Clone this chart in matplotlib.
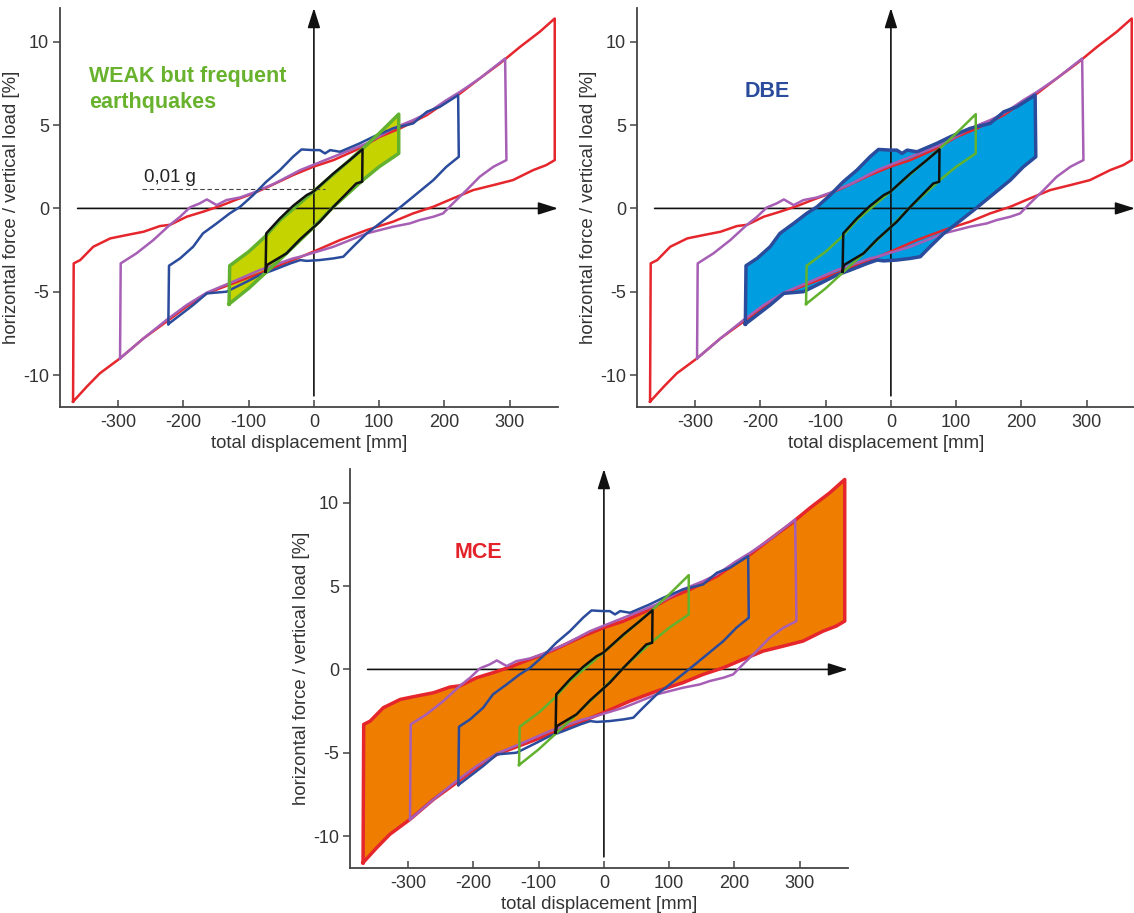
import matplotlib
matplotlib.use("Agg")
import matplotlib.pyplot as plt
from matplotlib.patches import Polygon

plt.rcParams["font.family"] = ["Liberation Sans", "DejaVu Sans"]
plt.rcParams["axes.unicode_minus"] = False

# hysteresis loops:
# upper branch left -> right, then lower branch right -> left
RED_X = [-369, -368, -358, -338, -312, -287, -261, -236, -220, -195, -170, -144, -118, -93, -72, -32, -1,
         30, 70, 101, 132, 173, 203, 224, 254, 285, 316, 346, 369,
         369, 356, 336, 305, 275, 244, 213, 183, 152, 121, 81, 40, -1, -32, -83, -124, -164, -195,
         -226, -261, -297, -328, -348, -369]
RED_Y = [-11.6, -3.3, -3.1, -2.3, -1.8, -1.6, -1.4, -1.06, -0.98, -0.5, -0.2, 0.14, 0.54, 0.9, 1.26, 2.0, 2.5,
         2.9, 3.6, 4.3, 4.8, 5.6, 6.4, 6.9, 7.8, 8.7, 9.7, 10.6, 11.4,
         2.9, 2.6, 2.3, 1.7, 1.4, 1.1, 0.6, 0.1, -0.3, -0.8, -1.3, -1.9, -2.6, -3.1, -3.9, -4.5, -5.1, -5.9,
         -6.8, -7.8, -9.0, -9.9, -10.7, -11.6]

PURPLE_X = [-297, -296, -272, -246, -221, -205, -190, -175, -164, -149, -134, -113, -93, -60, -21,
            30, 81, 121, 152, 173, 203, 224, 254, 293,
            295, 275, 254, 234, 213, 198, 183, 162, 147, 121, 81, 30, -21, -32, -83, -124, -164,
            -195, -226, -261, -297]
PURPLE_Y = [-9.0, -3.3, -2.7, -1.9, -1.0, -0.5, 0.06, 0.3, 0.54, 0.2, 0.5, 0.66, 0.94, 1.5, 2.3,
            3.1, 3.9, 4.8, 5.3, 5.7, 6.5, 7.0, 7.8, 9.0,
            2.9, 2.5, 1.9, 1.1, 0.3, -0.3, -0.5, -0.7, -0.9, -1.1, -1.5, -2.3, -2.9, -3.0, -3.7, -4.4, -5.05,
            -5.8, -6.7, -7.8, -9.0]

BLUE_X = [-223, -222, -205, -185, -170, -149, -129, -113, -93, -73, -52, -32, -19, -1, 9, 17, 25, 40,
          70, 91, 121, 152, 173, 193, 221,
          222, 203, 183, 152, 127, 101, 81, 60, 45, 30, 9, -11, -21, -36, -62, -83, -103, -134, -164,
          -185, -223]
BLUE_Y = [-6.94, -3.44, -3.0, -2.3, -1.5, -0.9, -0.3, 0.1, 0.8, 1.6, 2.3, 3.1, 3.54, 3.5, 3.5, 3.3, 3.5, 3.4,
          3.9, 4.3, 4.8, 5.1, 5.8, 6.1, 6.8,
          3.1, 2.5, 1.7, 0.7, -0.1, -0.9, -1.5, -2.3, -2.9, -3.0, -3.1, -3.15, -3.1, -3.3, -3.7, -4.0, -4.4,
          -5.0, -5.1, -5.8, -6.94]

GREEN_X = [-130, -129, -100, -75, -52, -1, 55, 75, 100, 130,
           130, 100, 75, 30, -1, -42, -75, -100, -130]
GREEN_Y = [-5.74, -3.44, -2.6, -1.7, -0.7, 1.0, 2.9, 3.6, 4.5, 5.66,
           3.3, 2.5, 1.7, 0.1, -1.15, -2.7, -3.9, -4.8, -5.74]

BLACK_X = [-74, -73, -52, -32, -11, -1, 30, 55, 74.5,
           74, 65, 30, 9, -1, -21, -42, -72, -74]
BLACK_Y = [-3.8, -1.5, -0.6, 0.15, 0.8, 1.0, 2.1, 2.9, 3.55,
           1.6, 1.5, 0.1, -0.8, -1.15, -1.85, -2.7, -3.4, -3.8]

X_TICKS = [-300, -200, -100, 0, 100, 200, 300]
Y_TICKS = [-10, -5, 0, 5, 10]

LOOPS = {
    "red": (RED_X, RED_Y, "#e5262c"),
    "purple": (PURPLE_X, PURPLE_Y, "#a65fb5"),
    "blue": (BLUE_X, BLUE_Y, "#2b4c9c"),
    "green": (GREEN_X, GREEN_Y, "#62b22f"),
    "black": (BLACK_X, BLACK_Y, "#111111"),
}

XLIM = (-389, 374)
YLIM = (-11.92, 12.03)
AX_C = "#444444"


def draw_panel(ax, hl, fill_color, texts):
    ax.set_xlim(*XLIM)
    ax.set_ylim(*YLIM)
    for s in ("top", "right"):
        ax.spines[s].set_visible(False)
    for s in ("left", "bottom"):
        ax.spines[s].set_color(AX_C)
        ax.spines[s].set_linewidth(1.3)
    ax.set_xticks(X_TICKS)
    ax.set_yticks(Y_TICKS)
    # x ticks point up into the plot, y ticks point out
    ax.tick_params(axis="x", direction="in", length=5, width=1.1, color=AX_C,
                   labelsize=13, labelcolor="#333333", pad=5)
    ax.tick_params(axis="y", direction="out", length=5, width=1.1, color=AX_C,
                   labelsize=13, labelcolor="#333333", pad=3)
    ax.set_xlabel("total displacement [mm]", fontsize=13.4, color="#333333", labelpad=3)
    ax.set_ylabel("horizontal force / vertical load [%]", fontsize=13.4, color="#333333", labelpad=2)

    # filled loop
    xs, ys, c = LOOPS[hl]
    ax.add_patch(Polygon(list(zip(xs, ys)), closed=True, facecolor=fill_color,
                         edgecolor="none", zorder=1))

    # coordinate arrows
    ap = dict(arrowstyle="-|>,head_length=1.2,head_width=0.38", color="#111111",
              lw=1.2, shrinkA=0, shrinkB=0)
    ax.annotate("", xy=(XLIM[1], 0), xytext=(-362, 0), arrowprops=ap,
                annotation_clip=False, zorder=2)
    ax.annotate("", xy=(0, YLIM[1]), xytext=(0, -11.25), arrowprops=ap,
                annotation_clip=False, zorder=2)

    for i, (name, (xs, ys, c)) in enumerate(LOOPS.items()):
        lw = 2.5 if name == hl else 1.8
        ax.plot(xs, ys, color=c, lw=lw, solid_joinstyle="round", zorder=3 + i)

    for t in texts:
        x, y, s, col, fs, bold = t
        ax.text(x, y, s, color=col, fontsize=fs, fontweight="bold" if bold else "normal",
                ha="left", va="baseline", zorder=10)


fig = plt.figure(figsize=(11.34, 9.13), dpi=100)
W, H = 1134, 913
ax1 = fig.add_axes([60 / W, 1 - 407 / H, 498 / W, 399 / H])
ax2 = fig.add_axes([637 / W, 1 - 407 / H, 498 / W, 399 / H])
ax3 = fig.add_axes([350 / W, 1 - 868 / H, 498 / W, 399 / H])

draw_panel(ax1, "green", "#c5d300", [
    (-345, 7.6, "WEAK but frequent", "#68b22d", 15.5, True),
    (-345, 6.0, "earthquakes", "#68b22d", 15.5, True),
    (-261, 1.6, "0,01 g", "#222222", 13.4, False),
])
ax1.plot([-264, 17], [1.14, 1.14], color="#444444", lw=0.8, ls=(0, (4, 2.5)), zorder=11)

draw_panel(ax2, "blue", "#009ee0", [(-224, 6.7, "DBE", "#2b4c9c", 15.5, True)])
draw_panel(ax3, "red", "#ef7d00", [(-229, 6.7, "MCE", "#e3222a", 15.5, True)])

fig.savefig("out.png", dpi=100)
